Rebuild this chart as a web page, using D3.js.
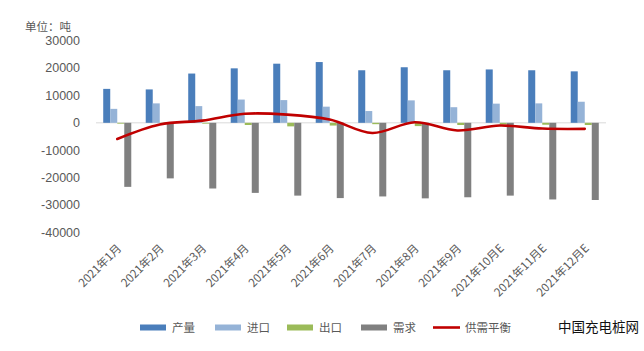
<!DOCTYPE html>
<html><head><meta charset="utf-8">
<script src="https://cdn.jsdelivr.net/npm/d3@7/dist/d3.min.js"></script>
<style>html,body{margin:0;padding:0;background:#fff;}svg{display:block;}</style>
</head><body>
<svg id="c" width="644" height="351"></svg>
<script>
const months = ["2021年1月","2021年2月","2021年3月","2021年4月","2021年5月","2021年6月","2021年7月","2021年8月","2021年9月","2021年10月E","2021年11月E","2021年12月E"];
const production = [12400,12200,18000,19900,21600,22200,19200,20300,19200,19500,19200,18800];
const imports    = [5100,7100,6100,8500,8300,5900,4300,8200,5700,7000,7100,7700];
const exportsV   = [-300,-200,-300,-800,-1300,-1000,-500,-1200,-800,-600,-700,-800];
const demand     = [-23400,-20300,-24000,-25600,-26600,-27500,-26900,-27600,-27200,-26600,-28000,-28200];
const balance    = [-5900,-600,800,3300,3000,1200,-3700,200,-2800,-1000,-2100,-2200];
const yTicks = [30000,20000,10000,0,-10000,-20000,-30000,-40000];
const seriesNames = ["产量","进口","出口","需求","供需平衡"];
const colors = ["#4A7EBB","#95B3D7","#9BBB59","#808080","#C00000"];

const svg = d3.select("#c");
const fontNum = "'Liberation Sans','Noto Sans',Arial,sans-serif";
const fontCJK = "'Noto Sans CJK SC','Noto Sans',sans-serif";

const x0 = d3.scaleBand().domain(months).range([96,606]).paddingInner(0.34).paddingOuter(0.17);
const x1 = d3.scaleBand().domain([0,1,2,3]).range([0,x0.bandwidth()]);
const y = d3.scaleLinear().domain([-40000,30000]).range([232.3,40.7]);

// y tick labels
svg.append("g").selectAll("text").data(yTicks).join("text")
  .attr("x",80).attr("y",d=>y(d)).attr("dy","0.35em")
  .attr("text-anchor","end").attr("font-family",fontNum).attr("font-size",12.5)
  .attr("fill","#595959").text(d=>d);

svg.append("text").attr("x",25).attr("y",31).attr("font-family",fontCJK)
  .attr("font-size",11.5).attr("fill","#595959").text("单位：吨");

// zero line
svg.append("line").attr("x1",96).attr("x2",606).attr("y1",y(0)).attr("y2",y(0))
  .attr("stroke","#D9D9D9").attr("stroke-width",1);

const allSeries = [production,imports,exportsV,demand];
allSeries.forEach((arr,si)=>{
  svg.append("g").selectAll("rect").data(arr).join("rect")
    .attr("x",(d,i)=>x0(months[i])+x1(si))
    .attr("width",x1.bandwidth())
    .attr("y",d=>Math.min(y(d),y(0)))
    .attr("height",d=>Math.abs(y(d)-y(0)))
    .attr("fill",colors[si]);
});

// balance line
const line = d3.line().x((d,i)=>x0(months[i])+x0.bandwidth()/2).y(d=>y(d))
  .curve(d3.curveCatmullRom.alpha(0.5));
svg.append("path").datum(balance).attr("d",line).attr("fill","none")
  .attr("stroke",colors[4]).attr("stroke-width",2.6).attr("stroke-linecap","round");

// x labels
svg.append("g").selectAll("text").data(months).join("text")
  .attr("transform",d=>`translate(${x0(d)+x0.bandwidth()/2+5},${249}) rotate(-45)`)
  .attr("text-anchor","end").attr("font-family",fontCJK).attr("font-size",11.5)
  .attr("fill","#595959").text(d=>d);

// legend
const legX = [140,215,287,361,433];
const leg = svg.append("g");
seriesNames.forEach((n,i)=>{
  if(i<4){
    leg.append("rect").attr("x",legX[i]).attr("y",324.5).attr("width",26).attr("height",6).attr("fill",colors[i]);
  } else {
    leg.append("line").attr("x1",legX[i]).attr("x2",legX[i]+27).attr("y1",327.5).attr("y2",327.5)
      .attr("stroke",colors[i]).attr("stroke-width",2.6);
  }
  leg.append("text").attr("x",legX[i]+32).attr("y",327.5).attr("dy","0.35em")
    .attr("font-family",fontCJK).attr("font-size",11.5).attr("fill","#595959").text(n);
});

svg.append("text").attr("x",558).attr("y",327).attr("dy","0.35em").attr("font-family",fontCJK)
  .attr("font-size",13.5).attr("fill","#111").text("中国充电桩网");
</script>
</body></html>
